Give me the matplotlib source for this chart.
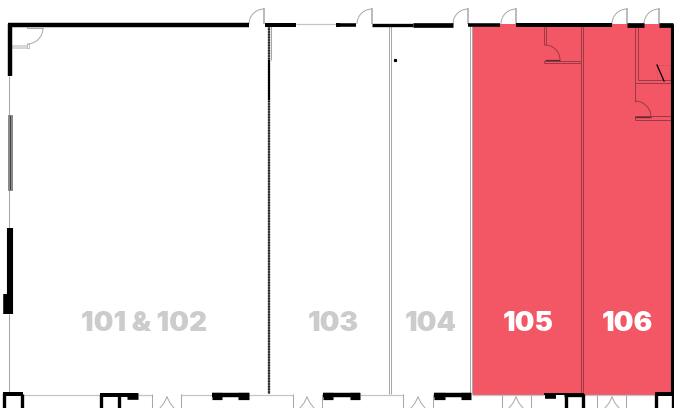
import matplotlib
matplotlib.use('Agg')
import matplotlib.pyplot as plt
from matplotlib.patches import Arc, Rectangle

RED = '#f35766'
DARK_RED = '#9c3a44'
GREY = '#a8a8a8'
LIGHT_GREY = '#c4c4c4'
LABEL_GREY = '#cccccb'

# подписи помещений
room_labels = ['101 & 102', '103', '104', '105', '106']
room_label_x = [144, 333, 431, 528, 627]
room_label_colors = [LABEL_GREY, LABEL_GREY, LABEL_GREY, 'white', 'white']

# выделенная область (x0, x1, y0, y1)
leased_area = (472.5, 671, 24, 394.7)

# толстые стены (x0, y0, x1, y1, толщина)
thick_walls = [
    (7.5, 24.5, 249, 24.5, 4), (265, 24.5, 296, 24.5, 3.6), (336, 24.5, 340, 24.5, 3.6),
    (340, 24.5, 356, 24.5, 3.2), (372, 24.5, 413, 24.5, 3), (413, 24.5, 453, 24.5, 4.2),
    (468, 24.5, 500, 24.5, 3.2), (516, 24.5, 612, 24.5, 3.6), (627, 24.5, 644, 24.5, 4.2),
    (659, 24.5, 673, 24.5, 4.2),
    (9.5, 24, 9.5, 76, 4), (671.5, 24, 671.5, 394, 2.8),
    (9.5, 228, 9.5, 314, 5.5), (5.5, 294, 5.5, 314, 5),
    (269, 60, 269, 100, 1.8),
    # опоры внизу
    (3, 394, 22.5, 394, 3.6), (100, 395, 138, 395, 3.6), (126.5, 396, 138, 396, 6),
    (212, 395, 249, 395, 4), (212, 396, 222, 396, 6.5), (238, 396, 249, 396, 6.5),
    (323, 395, 360, 395, 4), (323, 396, 333, 396, 6.5), (350, 396, 360, 396, 6.5),
    (434, 395, 471, 395, 4), (434, 396, 445, 396, 6.5), (461, 396, 471, 396, 6.5),
    (544, 393.5, 584, 393.5, 1.8), (545, 396, 556, 396, 5),
    (564, 395, 584, 395, 3), (655, 394, 674, 394, 3.6),
    (4, 393, 4, 408, 3), (21.5, 394, 21.5, 408, 3),
    (101, 394, 101, 408, 3), (119, 394, 119, 408, 3),
    (566, 394, 566, 408, 3), (583, 394, 583, 408, 3),
    (656, 394, 656, 408, 3), (673, 394, 673, 408, 3),
]

# тонкие серые линии
thin_lines = [
    (8.5, 76, 8.5, 228), (8.5, 314, 8.5, 392),
    (152, 394, 152, 408), (181, 394, 181, 408), (293, 394, 293, 408), (322, 394, 322, 408),
    (403, 394, 403, 408), (433, 394, 433, 408), (502, 394, 502, 408), (531, 394, 531, 408),
    (597, 394, 597, 408), (626, 394, 626, 408),
    (388.5, 26, 388.5, 394), (390.5, 26, 390.5, 394), (469.8, 26, 469.8, 394), (471.8, 26, 471.8, 394),
    (270.8, 26, 270.8, 60),
    (27, 28, 43, 28), (27, 28, 27, 26),
]

# светлые линии: верх и низ
light_lines = [
    (296, 24.2, 336, 24.2),
    (22, 394.7, 100, 394.7), (138, 394.7, 152, 394.7), (181, 394.7, 212, 394.7),
    (249, 394.7, 293, 394.7), (360, 394.7, 403, 394.7),
    (472, 395, 544, 395), (584, 395, 655, 395),
]

# перегородки внутри красной зоны
red_lines = [
    (581, 26, 581, 394), (583, 26, 583, 394),
    (544, 26, 544, 45), (546, 26, 546, 45),
    (544, 60.5, 581, 60.5), (544, 63, 581, 63), (544, 60.5, 544, 63),
    (635, 26, 635, 102), (637.5, 26, 637.5, 80),
    (637.5, 80, 671, 80), (635, 83, 671, 83),
    (635, 116, 671, 116), (635, 120, 671, 120), (635, 116, 635, 120),
]

# двери: петля (x, y), радиус
top_doors = [(264, 24, 15), (372, 24, 15), (468, 24, 15), (516, 24, 15), (627, 24, 15), (659, 24, 15)]
red_doors = [(545, 60, 15), (635, 117, 16)]

# створки нижних дверей
bottom_door_x = [167, 307, 418, 516, 612]

fig = plt.figure(figsize=(6.74, 4.08), dpi=100)
ax = fig.add_axes([0, 0, 1, 1])
ax.set_xlim(0, 674)
ax.set_ylim(408, 0)
ax.axis('off')

x0, x1, y0, y1 = leased_area
ax.add_patch(Rectangle((x0, y0), x1 - x0, y1 - y0, color=RED, lw=0, zorder=1))

for x_a, y_a, x_b, y_b in light_lines:
    ax.plot([x_a, x_b], [y_a, y_b], color=LIGHT_GREY, lw=0.9, solid_capstyle='butt', zorder=2)

for x_a, y_a, x_b, y_b in thin_lines:
    ax.plot([x_a, x_b], [y_a, y_b], color=GREY, lw=0.75, solid_capstyle='butt', zorder=2)

for x_a, y_a, x_b, y_b in red_lines:
    ax.plot([x_a, x_b], [y_a, y_b], color=DARK_RED, lw=0.7, solid_capstyle='butt', zorder=2)

# штриховая стена между 102 и 103
ax.plot([269, 269], [26, 394], color='#6a6a6a', lw=1.6, solid_capstyle='butt', zorder=2)
ax.plot([269, 269], [26, 394], color='#222222', lw=1.6, ls=(0, (0.6, 0.6)), zorder=2)

# окно слева
ax.add_patch(Rectangle((8, 115), 3.5, 75, facecolor='#8a8a8a', edgecolor='#707070', lw=0.5, zorder=3))
ax.plot([9.8, 9.8], [116, 189], color='#333333', lw=0.6, zorder=3)

# дверь в углу 101 и полоса под ней
ax.add_patch(Rectangle((12, 45), 15, 3, facecolor='#d8d8d8', edgecolor=LIGHT_GREY, lw=0.4, zorder=3))
ax.add_patch(Rectangle((27, 44), 2, 4, facecolor='white', edgecolor=GREY, lw=0.5, zorder=3))
ax.add_patch(Arc((27, 28), 32, 32, theta1=0, theta2=90, color=GREY, lw=0.7, zorder=3))

for x_a, y_a, x_b, y_b, width in thick_walls:
    ax.plot([x_a, x_b], [y_a, y_b], color='black', lw=width * 0.8, solid_capstyle='butt', zorder=4)

for x, y, r in top_doors:
    ax.plot([x, x], [y - r - 1, y], color=GREY, lw=1.1, solid_capstyle='butt', zorder=3)
    ax.add_patch(Arc((x, y), 2 * r, 2 * r, theta1=180, theta2=270, color=GREY, lw=0.7, zorder=3))

for x, y, r in red_doors:
    ax.add_patch(Arc((x, y), 2 * r, 2 * r, theta1=270, theta2=360, color=DARK_RED, lw=0.7, zorder=3))
    ax.plot([x, x + r], [y, y], color='#5a2a30', lw=0.9, solid_capstyle='butt', zorder=3)

# шкаф с диагональю в 106
ax.add_patch(Rectangle((657, 65), 13, 15, fill=False, edgecolor=DARK_RED, lw=0.4, ls=':', zorder=2))
ax.plot([657, 664], [65, 81], color='black', lw=0.9, zorder=4)
ax.plot(394.5, 60, marker='s', color='black', ms=1.3, zorder=4)

for x in bottom_door_x:
    ax.plot([x, x - 3, x - 7], [397, 403, 408], color=GREY, lw=0.7, zorder=3)
    ax.plot([x, x + 3, x + 7], [397, 403, 408], color=GREY, lw=0.7, zorder=3)

for label, x, color in zip(room_labels, room_label_x, room_label_colors):
    ax.text(x, 324, label, color=color, ha='center', va='center',
            fontsize=20, fontweight='black', family='Inter', zorder=5)

fig.savefig('out.png', dpi=100)
